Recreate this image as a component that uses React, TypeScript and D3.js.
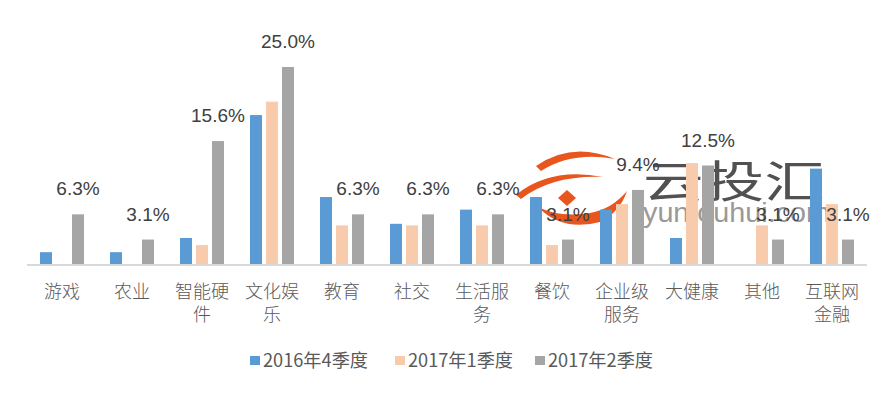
import React from "react";
import * as d3 from "d3";

// 投资事件行业分布 (%)
const categories = ["游戏", "农业", "智能硬件", "文化娱乐", "教育", "社交", "生活服务", "餐饮", "企业级服务", "大健康", "其他", "互联网金融"];
const seriesNames = ["2016年4季度", "2017年1季度", "2017年2季度"];
const q4_2016 = [1.5, 1.5, 3.3, 18.9, 8.5, 5.1, 6.9, 8.5, 6.9, 3.3, 0, 12.1];
const q1_2017 = [0, 0, 2.4, 20.6, 4.9, 4.9, 4.9, 2.4, 7.6, 12.8, 4.9, 7.6];
const q2_2017 = [6.3, 3.1, 15.6, 25.0, 6.3, 6.3, 6.3, 3.1, 9.4, 12.5, 3.1, 3.1];
const colors = ["#5B9BD5", "#F8CBAD", "#A5A5A5"];

const W = 894, H = 396;
const baseY = 264;

// wrap category names every 3 chars, like the original
const wrap = (s: string) => {
    const out: string[] = [];
    for (let i = 0; i < s.length; i += 3) out.push(s.slice(i, i + 3));
    return out;
};

const App = () => {
    const series = [q4_2016, q1_2017, q2_2017];
    const x0 = d3.scaleBand<string>().domain(categories).range([27, 867]).paddingInner(22 / 70).paddingOuter(11 / 70);
    const x1 = d3.scaleBand<string>().domain(seriesNames).range([0, x0.bandwidth()]).paddingInner(0.25).paddingOuter(0.125);
    const y = d3.scaleLinear().domain([0, 25]).range([baseY, 67]);
    const fmt = d3.format(".1f");
    const labelFont = "'Liberation Sans', Arial, sans-serif";
    const cjkFont = "'Noto Sans CJK SC', 'Noto Sans', sans-serif";

    // legend layout
    const legendX = [250, 395, 535];

    return (
        <svg width={W} height={H} style={{ position: "absolute", left: 0, top: 0, background: "#fff" }}>
            {/* watermark */}
            <g>
                <g fill="#E8561E">
                    <path d="M536,166 Q572,141 615,159 Q572,151 541,171 Z" />
                    <path d="M516,195 Q550,167 603,177 Q552,175 521,199 Z" />
                    <path d="M567,190 L576,198 L567,206 L558,198 Z" />
                    <path d="M538,207 Q562,232 600,222 Q620,212 627,191 Q612,209 590,213 Q560,218 538,207 Z" />
                </g>
                <text x={643} y={198} fontSize={44} fill="#333" opacity={0.85} fontFamily={cjkFont} textLength={182} lengthAdjust="spacingAndGlyphs">云投汇</text>
                <text x={643} y={222} fontSize={27} fill="#999" fontFamily={labelFont} textLength={187} lengthAdjust="spacingAndGlyphs">yuntouhui.com</text>
            </g>

            {/* bars */}
            {categories.map((c, i) => (
                <g key={c} transform={`translate(${x0(c)},0)`}>
                    {series.map((vals, s) => vals[i] > 0 ? (
                        <rect key={s} x={x1(seriesNames[s])} y={y(vals[i])} width={x1.bandwidth()} height={baseY - y(vals[i])} fill={colors[s]} />
                    ) : null)}
                </g>
            ))}

            {/* axis line */}
            <line x1={27} x2={867} y1={baseY + 1} y2={baseY + 1} stroke="#D9D9D9" strokeWidth={2} />

            {/* data labels for 2017Q2 */}
            {categories.map((c, i) => (
                <text key={c} x={(x0(c) ?? 0) + (x1(seriesNames[2]) ?? 0) + x1.bandwidth() / 2} y={y(q2_2017[i]) - 19}
                    textAnchor="middle" fontSize={19} fill="#404040" fontFamily={labelFont}>
                    {fmt(q2_2017[i])}%
                </text>
            ))}

            {/* category labels */}
            {categories.map((c) => (
                <text key={c} x={(x0(c) ?? 0) + x0.bandwidth() / 2} y={298} textAnchor="middle" fontSize={18} fill="#595959" fontFamily={cjkFont} fontWeight={300}>
                    {wrap(c).map((line, j) => (
                        <tspan key={j} x={(x0(c) ?? 0) + x0.bandwidth() / 2} dy={j === 0 ? 0 : 23}>{line}</tspan>
                    ))}
                </text>
            ))}

            {/* legend */}
            {seriesNames.map((n, s) => (
                <g key={n} transform={`translate(${legendX[s]},0)`}>
                    <rect x={0} y={356} width={10} height={9} fill={colors[s]} />
                    <text x={13} y={367} fontSize={18} fill="#595959" fontFamily={cjkFont} textLength={105} lengthAdjust="spacingAndGlyphs">{n}</text>
                </g>
            ))}
        </svg>
    );
};

export default App;
